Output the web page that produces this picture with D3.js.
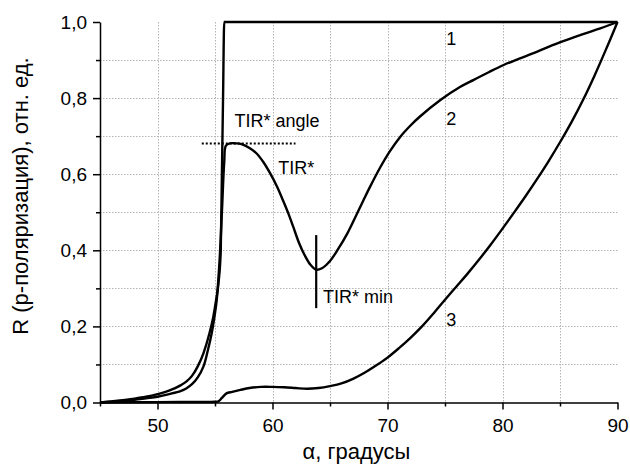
<!DOCTYPE html>
<html>
<head>
<meta charset="utf-8">
<script src="https://cdn.jsdelivr.net/npm/d3@7"></script>
<style>
  body { margin: 0; background: #fff; }
  text { font-family: Arial, "Liberation Sans", sans-serif; fill: #000; }
</style>
</head>
<body>
<script>
// curve 1
const angle1 = [45, 46, 47, 48, 49, 50, 51, 52, 52.5, 53, 53.5, 54, 54.5, 54.85, 55.1, 55.3, 55.5, 55.6, 55.7, 55.8, 57, 70, 80, 90];
const refl1 = [0, 0.003, 0.006, 0.01, 0.015, 0.022, 0.031, 0.045, 0.055, 0.07, 0.095, 0.13, 0.18, 0.225, 0.27, 0.313, 0.4, 0.6, 0.8, 1.0, 1.0, 1.0, 1.0, 1.0];

// curve 2
const angle2 = [45, 46, 47, 48, 49, 50, 51, 52, 52.5, 53, 53.5, 54, 54.4, 54.7, 55, 55.15, 55.4, 55.6, 55.8, 55.95, 56.3, 56.8, 57.3, 58, 58.6, 59.2, 59.8, 60.4, 60.9, 61.4, 61.8, 62.3, 62.8, 63.3, 63.8, 64.3, 65, 65.7, 66.5, 67.2, 67.9, 68.5, 69.35, 70.2, 71.1, 72, 72.8, 74.6, 76.3, 77.5, 78.8, 80.1, 81.4, 82.7, 84.1, 85.6, 87, 88.5, 90];
const refl2 = [0, 0.002, 0.004, 0.007, 0.011, 0.015, 0.022, 0.03, 0.037, 0.048, 0.066, 0.095, 0.14, 0.18, 0.235, 0.27, 0.375, 0.5, 0.63, 0.675, 0.681, 0.681, 0.679, 0.669, 0.655, 0.632, 0.602, 0.567, 0.532, 0.495, 0.462, 0.42, 0.387, 0.362, 0.349, 0.353, 0.372, 0.403, 0.444, 0.487, 0.531, 0.568, 0.617, 0.66, 0.698, 0.728, 0.751, 0.795, 0.829, 0.848, 0.868, 0.887, 0.903, 0.918, 0.936, 0.953, 0.968, 0.983, 1.0];

// curve 3
const angle3 = [45, 50, 55, 55.3, 55.6, 56, 56.5, 57.2, 58, 59, 60, 61, 62, 63, 64, 65, 66, 67, 68, 69, 70, 71, 72, 73, 74, 75, 76, 77, 78, 79, 80, 81, 82, 83, 84, 85, 86, 87, 88, 89, 90];
const refl3 = [0, 0.001, 0.002, 0.003, 0.012, 0.024, 0.028, 0.033, 0.038, 0.041, 0.041, 0.04, 0.038, 0.036, 0.038, 0.043, 0.05, 0.062, 0.078, 0.097, 0.118, 0.143, 0.17, 0.2, 0.234, 0.27, 0.305, 0.34, 0.377, 0.416, 0.457, 0.499, 0.542, 0.587, 0.634, 0.684, 0.737, 0.795, 0.859, 0.928, 1.0];

const curveLabels = ['1', '2', '3'];
const curveLabelAt = [[75.1, 0.94], [75.1, 0.73], [75.1, 0.2]];

// TIR* markers
const tirAngleLine = [[53.85, 0.681], [62.0, 0.681]];
const tirMinLine = [[63.8, 0.44], [63.8, 0.248]];
const notes = ['TIR* angle', 'TIR*', 'TIR* min'];
const noteAt = [[56.7, 0.723], [60.5, 0.6], [64.4, 0.262]];

const width = 630, height = 466;
const margin = { left: 100, top: 22, right: 12.5, bottom: 63.5 };
const innerWidth = width - margin.left - margin.right;
const innerHeight = height - margin.top - margin.bottom;

const svg = d3.select('body').append('svg')
  .attr('width', width)
  .attr('height', height);

const g = svg.append('g')
  .attr('transform', `translate(${margin.left},${margin.top})`);

const x = d3.scaleLinear().domain([45, 90]).range([0, innerWidth]);
const y = d3.scaleLinear().domain([0, 1]).range([innerHeight, 0]);

// grid, dotted light grey
const xGrid = d3.range(50, 90, 5);
const yGrid = d3.range(1, 10).map(d => d / 10);
const grid = g.append('g')
  .attr('fill', 'none')
  .attr('stroke', '#b4b4b4')
  .attr('stroke-width', 1)
  .attr('stroke-dasharray', '1.5 1.5');
grid.selectAll('path.gx').data(xGrid).join('path')
  .attr('class', 'gx')
  .attr('d', d => `M${Math.round(x(d)) + 0.5},0V${innerHeight}`);
grid.selectAll('path.gy').data(yGrid).join('path')
  .attr('class', 'gy')
  .attr('d', d => `M0,${Math.round(y(d)) + 0.5}H${innerWidth}`);

const comma = d => d3.format('.1f')(d).replace('.', ',');

// minor ticks
g.append('g')
  .attr('transform', `translate(0,${innerHeight})`)
  .call(d3.axisBottom(x).tickValues([45, 55, 65, 75, 85]).tickSize(4).tickSizeOuter(0))
  .call(a => a.select('.domain').remove())
  .call(a => a.selectAll('text').remove());
g.append('g')
  .call(d3.axisLeft(y).tickValues([0.1, 0.3, 0.5, 0.7, 0.9]).tickSize(4).tickSizeOuter(0))
  .call(a => a.select('.domain').remove())
  .call(a => a.selectAll('text').remove());

// x axis
const xAxis = g.append('g')
  .attr('transform', `translate(0,${innerHeight})`)
  .call(d3.axisBottom(x).tickValues([50, 60, 70, 80, 90]).tickSize(7).tickSizeOuter(0).tickPadding(9).tickFormat(d3.format('d')));
xAxis.selectAll('text').style('font-size', '19px').style('font-family', 'Arial, "Liberation Sans", sans-serif');

// y axis
const yAxis = g.append('g')
  .call(d3.axisLeft(y).tickValues([0, 0.2, 0.4, 0.6, 0.8, 1.0]).tickSize(7).tickSizeOuter(0).tickPadding(6).tickFormat(comma));
yAxis.selectAll('text').style('font-size', '19px').style('font-family', 'Arial, "Liberation Sans", sans-serif');

svg.selectAll('.domain, .tick line').attr('stroke', '#000').attr('stroke-width', 1.5);

// curves
const smooth = d3.line().x(d => x(d[0])).y(d => y(d[1])).curve(d3.curveCatmullRom.alpha(0.5));
const mono = d3.line().x(d => x(d[0])).y(d => y(d[1])).curve(d3.curveMonotoneX);
[[angle1, refl1, mono], [angle2, refl2, smooth], [angle3, refl3, smooth]].forEach(([a, r, gen]) => {
  g.append('path')
    .datum(a.map((v, i) => [v, r[i]]))
    .attr('d', gen)
    .attr('fill', 'none')
    .attr('stroke', '#000')
    .attr('stroke-width', 2.4)
    .attr('stroke-linejoin', 'round');
});

// markers
const straight = d3.line().x(d => x(d[0])).y(d => y(d[1]));
g.append('path').attr('d', straight(tirAngleLine))
  .attr('stroke', '#000').attr('stroke-width', 2).attr('stroke-dasharray', '2,2').attr('fill', 'none');
g.append('path').attr('d', straight(tirMinLine))
  .attr('stroke', '#000').attr('stroke-width', 2.2).attr('fill', 'none');

// labels
g.append('g').selectAll('text').data(curveLabels).join('text')
  .attr('x', (d, i) => x(curveLabelAt[i][0]))
  .attr('y', (d, i) => y(curveLabelAt[i][1]))
  .style('font-size', '18px')
  .text(d => d);
g.append('g').selectAll('text').data(notes).join('text')
  .attr('x', (d, i) => x(noteAt[i][0]))
  .attr('y', (d, i) => y(noteAt[i][1]))
  .style('font-size', '18px')
  .text(d => d);

// axis titles
svg.append('text')
  .attr('text-anchor', 'middle')
  .attr('transform', `translate(${margin.left + x(67.3)},459)`)
  .style('font-size', '22px')
  .text('α, градусы');
svg.append('text')
  .attr('text-anchor', 'middle')
  .attr('transform', 'translate(28,196) rotate(-90)')
  .style('font-size', '22px')
  .text('R (р-поляризация), отн. ед.');
</script>
</body>
</html>
